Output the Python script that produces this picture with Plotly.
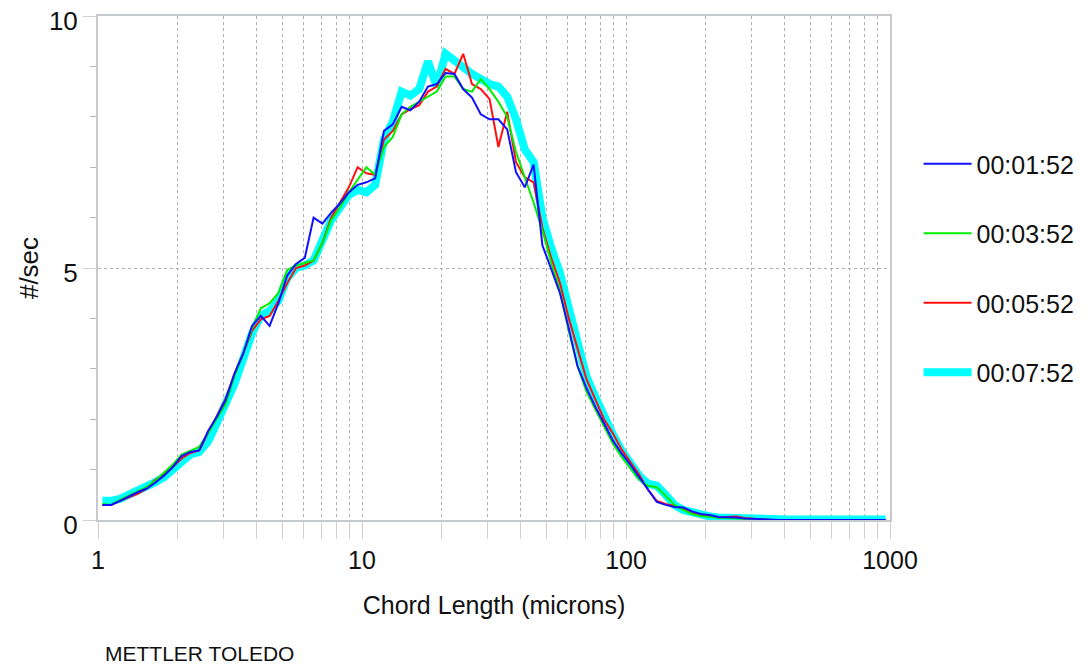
import plotly.graph_objects as go

# Chord length channel centres (microns), 30 log channels per decade
chord_length = [
    1.039, 1.122, 1.211, 1.308, 1.413, 1.525, 1.647, 1.778, 1.920, 2.073,
    2.239, 2.417, 2.610, 2.818, 3.043, 3.286, 3.548, 3.831, 4.137, 4.467,
    4.823, 5.208, 5.623, 6.072, 6.556, 7.079, 7.644, 8.254, 8.913, 9.624,
    10.39, 11.22, 12.11, 13.08, 14.13, 15.25, 16.47, 17.78, 19.20, 20.73,
    22.39, 24.17, 26.10, 28.18, 30.43, 32.86, 35.48, 38.31, 41.37, 44.67,
    48.23, 52.08, 56.23, 60.72, 65.56, 70.79, 76.44, 82.54, 89.13, 96.24,
    103.9, 112.2, 121.1, 130.8, 141.3, 152.5, 164.7, 177.8, 192.0, 207.3,
    223.9, 241.7, 261.0, 281.8, 304.3, 328.6, 354.8, 383.1, 413.7, 446.7,
    482.3, 520.8, 562.3, 607.2, 655.6, 707.9, 764.4, 825.4, 891.3, 962.4,
]

counts_0152 = [
    0.30, 0.30, 0.38, 0.47, 0.55, 0.62, 0.74, 0.88, 1.05, 1.27,
    1.35, 1.38, 1.76, 2.05, 2.38, 2.90, 3.30, 3.85, 4.05, 3.85,
    4.30, 4.85, 5.08, 5.20, 6.00, 5.88, 6.10, 6.28, 6.50, 6.65,
    6.70, 6.78, 7.72, 7.85, 8.20, 8.13, 8.30, 8.60, 8.65, 8.87,
    8.85, 8.55, 8.38, 8.05, 7.95, 7.95, 7.75, 6.90, 6.60, 7.05,
    5.45, 4.98, 4.50, 3.80, 3.05, 2.62, 2.25, 1.92, 1.58, 1.32,
    1.10, 0.85, 0.60, 0.36, 0.30, 0.26, 0.25, 0.17, 0.12, 0.10,
    0.06, 0.06, 0.05, 0.03, 0.02, 0.01, 0.00, 0.00, 0.00, 0.00,
    0.00, 0.00, 0.00, 0.00, 0.00, 0.00, 0.00, 0.00, 0.00, 0.00,
]

counts_0352 = [
    0.32, 0.30, 0.40, 0.48, 0.57, 0.65, 0.78, 0.93, 1.10, 1.30,
    1.38, 1.45, 1.72, 2.00, 2.30, 2.85, 3.30, 3.80, 4.20, 4.30,
    4.50, 4.96, 5.05, 5.10, 5.15, 5.50, 5.95, 6.20, 6.50, 6.75,
    7.00, 6.85, 7.40, 7.60, 8.05, 8.20, 8.30, 8.40, 8.50, 8.80,
    8.80, 8.55, 8.50, 8.75, 8.55, 8.30, 8.00, 7.30, 6.80, 6.30,
    5.75, 5.10, 4.55, 3.75, 3.05, 2.55, 2.20, 1.85, 1.52, 1.25,
    1.02, 0.80, 0.68, 0.65, 0.48, 0.30, 0.20, 0.12, 0.08, 0.06,
    0.05, 0.04, 0.03, 0.02, 0.01, 0.00, 0.00, 0.00, 0.00, 0.00,
    0.00, 0.00, 0.00, 0.00, 0.00, 0.00, 0.00, 0.00, 0.00, 0.00,
]

counts_0552 = [
    0.30, 0.30, 0.38, 0.45, 0.52, 0.62, 0.80, 0.90, 1.05, 1.22,
    1.33, 1.38, 1.72, 2.05, 2.40, 2.90, 3.30, 3.75, 3.98, 4.05,
    4.35, 4.70, 5.00, 5.05, 5.15, 5.50, 6.00, 6.30, 6.60, 7.00,
    6.88, 6.85, 7.55, 7.72, 8.05, 8.15, 8.23, 8.50, 8.60, 8.95,
    8.85, 9.25, 8.65, 8.55, 8.35, 7.40, 8.10, 7.10, 6.80, 6.70,
    5.80, 5.20, 4.70, 4.00, 3.40, 2.80, 2.40, 2.00, 1.72, 1.40,
    1.15, 0.90, 0.60, 0.38, 0.32, 0.28, 0.22, 0.14, 0.10, 0.07,
    0.05, 0.06, 0.07, 0.04, 0.02, 0.01, 0.00, 0.00, 0.00, 0.00,
    0.00, 0.00, 0.00, 0.00, 0.00, 0.00, 0.00, 0.00, 0.00, 0.00,
]

counts_0752 = [
    0.38, 0.38, 0.42, 0.50, 0.55, 0.65, 0.75, 0.85, 1.00, 1.20,
    1.30, 1.35, 1.55, 1.92, 2.28, 2.70, 3.20, 3.70, 4.05, 4.15,
    4.35, 4.80, 5.00, 5.05, 5.15, 5.55, 5.95, 6.20, 6.45, 6.55,
    6.50, 6.65, 7.55, 7.90, 8.50, 8.42, 8.55, 9.10, 8.60, 9.25,
    9.10, 8.95, 8.85, 8.75, 8.65, 8.60, 8.40, 7.95, 7.35, 7.10,
    6.00, 5.40, 4.90, 4.20, 3.50, 2.85, 2.45, 2.05, 1.70, 1.38,
    1.10, 0.88, 0.72, 0.68, 0.50, 0.30, 0.20, 0.15, 0.10, 0.07,
    0.05, 0.04, 0.03, 0.03, 0.02, 0.01, 0.01, 0.01, 0.01, 0.01,
    0.01, 0.01, 0.01, 0.01, 0.01, 0.01, 0.01, 0.01, 0.01, 0.01,
]

series_names = ["00:01:52", "00:03:52", "00:05:52", "00:07:52"]
series_values = [counts_0152, counts_0352, counts_0552, counts_0752]
series_colors = ["#1010ff", "#00ee00", "#ff1010", "#00ffff"]
series_widths = [2, 2, 2, 8]

x_tick_vals = [1, 10, 100, 1000]
x_tick_text = ["1", "10", "100", "1000"]
x_minor_vals = [2, 3, 4, 5, 6, 7, 8, 9, 20, 30, 40, 50, 60, 70, 80, 90,
                200, 300, 400, 500, 600, 700, 800, 900]
y_tick_vals = [0, 5, 10]
y_minor_vals = [1, 2, 3, 4, 6, 7, 8, 9]

FONT = "Liberation Sans, Arial, sans-serif"
TXT = "#111111"
GRID = "#b0b0b0"
FRAME = "#c6cacf"

fig = go.Figure()
# draw cyan first so it sits underneath, blue on top
for idx in [3, 2, 1, 0]:
    fig.add_trace(go.Scatter(
        x=chord_length, y=series_values[idx], mode="lines",
        name=series_names[idx],
        line=dict(color=series_colors[idx], width=series_widths[idx]),
        legendrank=idx + 1, legendgroup=series_names[idx],
    ))

# the page body adds an 8px offset, so the figure is 8px smaller
fig.update_layout(
    width=1084, height=659,
    margin=dict(l=90, r=202, t=8, b=147, autoexpand=False),
    paper_bgcolor="white", plot_bgcolor="white",
    font=dict(family=FONT, size=25, color=TXT),
    showlegend=True,
    legend=dict(
        xref="container", yref="container",
        x=0.840, y=0.798, xanchor="left", yanchor="top",
        font=dict(family=FONT, size=25, color=TXT),
        tracegroupgap=34, itemwidth=48, bgcolor="rgba(0,0,0,0)",
    ),
    xaxis=dict(
        type="log", range=[0, 3], automargin=False,
        tickmode="array", tickvals=x_tick_vals, ticktext=x_tick_text,
        ticks="outside", ticklen=17, tickwidth=1, tickcolor="#d0d0d0",
        showgrid=True, gridcolor=GRID, griddash="dot", gridwidth=1,
        minor=dict(tickmode="array", tickvals=x_minor_vals, ticks="outside",
                   ticklen=17, tickcolor="#d0d0d0", showgrid=True,
                   gridcolor=GRID, griddash="dot", gridwidth=1),
        showline=True, mirror=True, linecolor=FRAME, linewidth=2,
        zeroline=False, ticklabeloverflow="allow",
        tickfont=dict(family=FONT, size=25, color=TXT),
        title=dict(text="Chord Length (microns)", standoff=23,
                   font=dict(family=FONT, size=25, color=TXT)),
    ),
    yaxis=dict(
        range=[0, 10], automargin=False,
        tickmode="array", tickvals=y_tick_vals,
        ticks="outside", ticklen=13, tickwidth=1, tickcolor="#d0d0d0",
        showgrid=True, gridcolor=GRID, griddash="dot", gridwidth=1,
        minor=dict(tickmode="array", tickvals=y_minor_vals, ticks="outside",
                   ticklen=6, tickcolor="#b8b8b8", showgrid=False),
        showline=True, mirror=True, linecolor=FRAME, linewidth=2,
        zeroline=False, ticklabeloverflow="allow", ticklabelshift=5,
        tickfont=dict(family=FONT, size=26, color=TXT),
        title=dict(text="#/sec", standoff=3,
                   font=dict(family=FONT, size=26, color=TXT)),
    ),
    annotations=[dict(
        text="METTLER TOLEDO", xref="paper", yref="paper",
        x=0.0063, y=-0.264, xanchor="left", yanchor="middle",
        showarrow=False, font=dict(family=FONT, size=21, color=TXT),
    )],
)

fig.write_html("out.html")
